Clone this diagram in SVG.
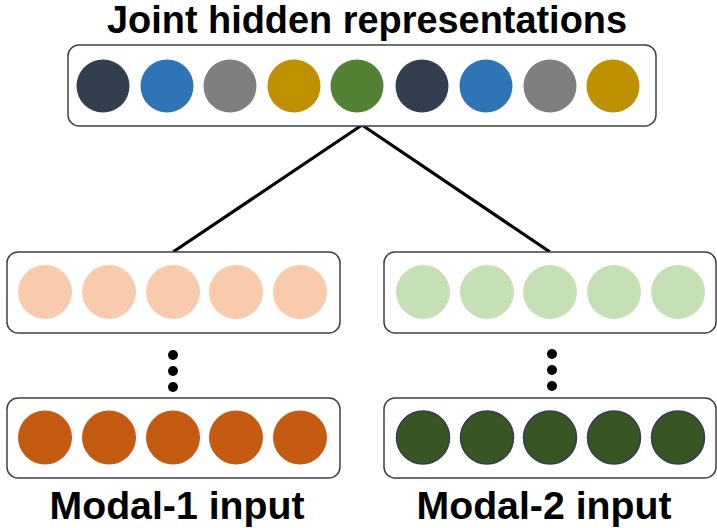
<svg xmlns="http://www.w3.org/2000/svg" width="717" height="528" viewBox="0 0 717 528">
  <style>
    .box { fill: #ffffff; stroke: #404040; stroke-width: 1.5; }
    .label { font-family: "Liberation Sans", Arial, sans-serif; font-weight: bold; font-size: 38px; fill: #000000; text-anchor: middle; }
    .edge { stroke: #000000; stroke-width: 3.2; fill: none; }
    .dot { fill: #000000; }
    .c-navy { fill: #333F50; }
    .c-blue { fill: #2E75B6; }
    .c-gray { fill: #7F7F7F; }
    .c-gold { fill: #BF9000; }
    .c-green { fill: #548235; }
    .c-peach { fill: #F8CBAD; }
    .c-mint { fill: #C5E0B4; }
    .c-rust { fill: #C55A11; }
    .c-forest { fill: #375623; stroke: #2F3F55; stroke-width: 1.5; }
  </style>

  <!-- connectors from the hidden layer down to the two modal branches -->
  <g id="connectors">
    <line class="edge" x1="362" y1="125" x2="173" y2="252"/>
    <line class="edge" x1="362" y1="125" x2="550" y2="252"/>
    <circle class="dot" cx="173" cy="355" r="5"/>
    <circle class="dot" cx="173" cy="371" r="5"/>
    <circle class="dot" cx="173" cy="387" r="5"/>
    <circle class="dot" cx="552" cy="354" r="5"/>
    <circle class="dot" cx="552" cy="370" r="5"/>
    <circle class="dot" cx="552" cy="386" r="5"/>
  </g>

  <!-- joint hidden representation layer -->
  <g id="joint">
    <text class="label" x="367" y="33" textLength="520" lengthAdjust="spacingAndGlyphs">Joint hidden representations</text>
    <rect class="box" x="68" y="45" width="588" height="81" rx="11"/>
    <circle class="c-navy" cx="103" cy="86" r="26.5"/>
    <circle class="c-blue" cx="167" cy="86" r="26.5"/>
    <circle class="c-gray" cx="230" cy="86" r="26.5"/>
    <circle class="c-gold" cx="294" cy="86" r="26.5"/>
    <circle class="c-green" cx="357" cy="86" r="26.5"/>
    <circle class="c-navy" cx="422" cy="86" r="26.5"/>
    <circle class="c-blue" cx="486" cy="86" r="26.5"/>
    <circle class="c-gray" cx="550" cy="86" r="26.5"/>
    <circle class="c-gold" cx="613" cy="86" r="26.5"/>
  </g>

  <!-- modal 1 hidden layer -->
  <g id="modal1-hidden">
    <rect class="box" x="7" y="252" width="333" height="81" rx="11"/>
    <circle class="c-peach" cx="45" cy="292" r="27"/>
    <circle class="c-peach" cx="109" cy="292" r="27"/>
    <circle class="c-peach" cx="173" cy="292" r="27"/>
    <circle class="c-peach" cx="236" cy="292" r="27"/>
    <circle class="c-peach" cx="300" cy="292" r="27"/>
  </g>

  <!-- modal 2 hidden layer -->
  <g id="modal2-hidden">
    <rect class="box" x="384" y="252" width="332" height="81" rx="11"/>
    <circle class="c-mint" cx="423" cy="292" r="27"/>
    <circle class="c-mint" cx="487" cy="292" r="27"/>
    <circle class="c-mint" cx="550" cy="292" r="27"/>
    <circle class="c-mint" cx="614" cy="292" r="27"/>
    <circle class="c-mint" cx="678" cy="292" r="27"/>
  </g>

  <!-- modal 1 input layer -->
  <g id="modal1-input">
    <rect class="box" x="7" y="398" width="333" height="80" rx="11"/>
    <circle class="c-rust" cx="45" cy="437.5" r="27"/>
    <circle class="c-rust" cx="109" cy="437.5" r="27"/>
    <circle class="c-rust" cx="173" cy="437.5" r="27"/>
    <circle class="c-rust" cx="236" cy="437.5" r="27"/>
    <circle class="c-rust" cx="300" cy="437.5" r="27"/>
    <text class="label" x="177" y="519" textLength="255" lengthAdjust="spacingAndGlyphs">Modal-1 input</text>
  </g>

  <!-- modal 2 input layer -->
  <g id="modal2-input">
    <rect class="box" x="384" y="398" width="332" height="80" rx="11"/>
    <circle class="c-forest" cx="423" cy="437.5" r="26.5"/>
    <circle class="c-forest" cx="487" cy="437.5" r="26.5"/>
    <circle class="c-forest" cx="550" cy="437.5" r="26.5"/>
    <circle class="c-forest" cx="614" cy="437.5" r="26.5"/>
    <circle class="c-forest" cx="678" cy="437.5" r="26.5"/>
    <text class="label" x="544" y="519" textLength="255" lengthAdjust="spacingAndGlyphs">Modal-2 input</text>
  </g>
</svg>
